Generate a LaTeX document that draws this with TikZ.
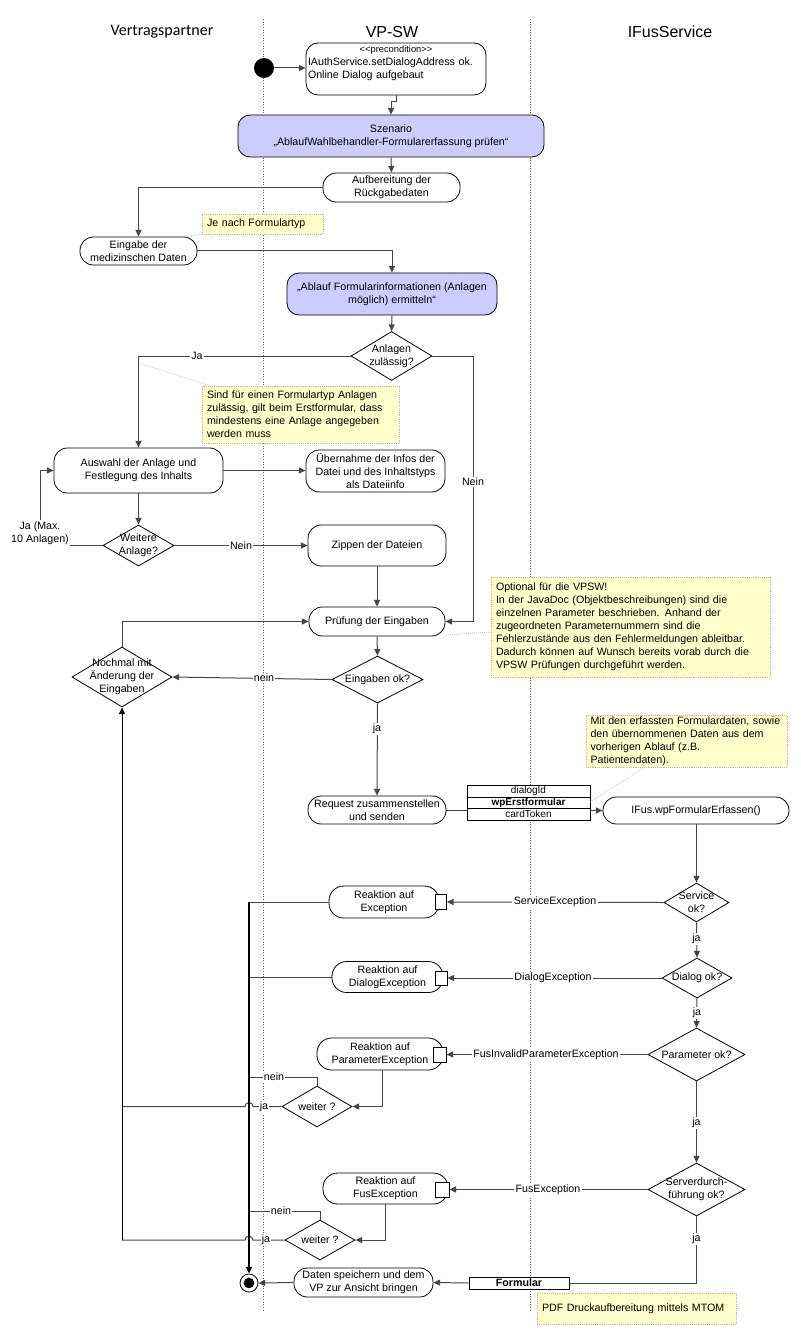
\documentclass[tikz,border=0pt]{standalone}
\usepackage{fontspec}
\setmainfont{Liberation Sans}
\newfontfamily\hdrfont{Carlito}
\usetikzlibrary{shapes.geometric,arrows.meta,calc}
\definecolor{lav}{RGB}{204,204,255}
\definecolor{notey}{RGB}{255,255,204}
\definecolor{noteb}{RGB}{185,185,150}
\definecolor{ln}{RGB}{70,70,70}
\begin{document}
\begin{tikzpicture}[x=0.75pt,y=-0.75pt,
  fs/.style={font=\fontsize{8}{9.75}\selectfont},
  wh/.style 2 args={minimum width=#1*0.75pt, minimum height=#2*0.75pt},
  act/.style={draw=black, rounded corners=8pt, fill=white, inner sep=0pt, align=center, fs, line width=0.6pt},
  reak/.style={act, rounded corners=11pt},
  purp/.style={act, fill=lav},
  dia/.style={diamond, draw=black, fill=white, inner sep=0pt, line width=0.6pt},
  dtxt/.style={align=center, fs, inner sep=0pt},
  nt/.style={draw=noteb, densely dotted, fill=notey, inner xsep=3.75pt, inner ysep=0pt, align=left, fs, text width=#1},
  port/.style={draw=black, fill=white, inner sep=0pt, line width=0.6pt},
  objrow/.style={draw=black, fill=white, inner sep=0pt, line width=0.6pt, font=\fontsize{7.5}{8}\selectfont},
  line/.style={draw=ln, line width=0.75pt},
  arr/.style={line, -{Triangle[length=5pt,width=4.5pt]}},
  bar/.style={draw=black, line width=1.5pt},
  thinbar/.style={draw=black, line width=0.6pt},
  lab/.style={fill=white, inner sep=1pt, fs},
  ncon/.style={draw=gray!60, densely dotted, line width=0.5pt},
  lane/.style={draw=gray!70!black, dash pattern=on 0.8pt off 1.2pt, line width=0.5pt},
  hdA/.style={font=\hdrfont\fontsize{12}{14}\selectfont},
  hdB/.style={font=\fontsize{12}{14}\selectfont}]
\fill[white] (0,0) rectangle (800,1337);
\useasboundingbox (0,0) rectangle (800,1337);

% lanes
\coordinate (la1) at (263,19); \coordinate (lb1) at (263,1310);
\coordinate (la2) at (530,19); \coordinate (lb2) at (530,1310);
\draw[lane] (la1) -- (lb1);
\draw[lane] (la2) -- (lb2);

% headers
\node[hdA] (hVP) at (162,32) {Vertragspartner};
\node[hdB] (hSW) at (392,32) {VP-SW};
\node[hdB] (hIF) at (670,32) {IFusService};

% nodes
\node[circle, fill=black, minimum size=15pt, inner sep=0pt] (start) at (264,68) {};
\node[act, rounded corners=9pt, wh={180}{52}, text width=132pt, align=left] (pre) at (396,69)
  {\makebox[132pt]{\fontsize{7}{9}\selectfont <{}<precondition>{}>}\\IAuthService.setDialogAddress ok.\\Online Dialog aufgebaut\\\mbox{}};
\node[purp, wh={306}{42}, rounded corners=9pt] (szen) at (391,136) {Szenario\\„AblaufWahlbehandler-Formularerfassung prüfen“};
\node[act, wh={137}{29}, rounded corners=10pt] (aufb) at (391.5,187.5) {Aufbereitung der\\Rückgabedaten};
\node[nt=83.25pt, minimum height=15pt] (n1) at (262.5,224) {Je nach Formulartyp};
\node[act, wh={117}{28}, rounded corners=10pt] (eing) at (138.5,251) {Eingabe der\\medizinschen Daten};
\node[purp, wh={210}{42}, rounded corners=9pt] (abl) at (392,294) {„Ablauf Formularinformationen (Anlagen\\möglich) ermitteln“};
\node[dia, wh={81}{49}, label={[dtxt]center:{Anlagen\\zulässig?}}] (anl) at (391.5,356) {};
\node[nt=140.25pt, minimum height=42.75pt] (n2) at (300.5,414.5) {Sind für einen Formulartyp Anlagen\\zulässig, gilt beim Erstformular, dass\\mindestens eine Anlage angegeben\\werden muss};
\node[act, wh={169}{45}, rounded corners=10pt] (ausw) at (138.5,470.5) {Auswahl der Anlage und\\Festlegung des Inhalts};
\node[act, wh={139}{42}, rounded corners=10pt] (uebn) at (375.5,471) {Übernahme der Infos der\\Datei und des Inhaltstyps\\als Dateiinfo};
\node[dia, wh={71}{41}, label={[dtxt]center:{Weitere\\Anlage?}}] (weit) at (138.5,545.5) {};
\node[act, wh={138}{41}, rounded corners=10pt] (zipp) at (377,545.5) {Zippen der Dateien};
\node[act, wh={136}{29}, rounded corners=10pt] (pruef) at (377,621.5) {Prüfung der Eingaben};
\node[nt=201.75pt, minimum height=75pt] (n3) at (630.5,627) {Optional für die VPSW!\\In der JavaDoc (Objektbeschreibungen) sind die\\einzelnen Parameter beschrieben. Anhand der\\zugeordneten Parameternummern sind die\\Fehlerzustände aus den Fehlermeldungen ableitbar.\\Dadurch können auf Wunsch bereits vorab durch die\\VPSW Prüfungen durchgeführt werden.};
\node[dia, wh={100}{60}, label={[dtxt]center:{Nochmal mit\\Änderung der\\Eingaben}}] (noch) at (122,677) {};
\node[dia, wh={91}{47}, label={[dtxt]center:{Eingaben ok?}}] (eok) at (377.5,679.5) {};
\node[act, wh={138}{28}, rounded corners=10pt] (req) at (377,810) {Request zusammenstellen\\und senden};
\node[objrow, wh={123}{12}] (o1) at (528.5,791) {dialogId};
\node[objrow, wh={123}{11}] (o2) at (528.5,802.5) {\bfseries wpErstformular};
\node[objrow, wh={123}{12}] (o3) at (528.5,814) {cardToken};
\node[nt=144pt, inner xsep=3.4pt, minimum height=39pt] (n4) at (686.5,741) {Mit den erfassten Formulardaten, sowie\\den übernommenen Daten aus dem\\vorherigen Ablauf (z.B.\\Patientendaten).};
\node[act, wh={186}{27}, rounded corners=10pt] (ifus) at (696,810.5) {IFus.wpFormularErfassen()};

\node[dia, wh={65}{39}, label={[dtxt]center:{Service\\ok?}}] (serv) at (696.5,902.5) {};
\node[reak, wh={110}{32}] (rea1) at (384,902) {Reaktion auf\\Exception};
\node[port, wh={11}{15}] (p1) at (441,902) {};
\node[dia, wh={70}{40}, label={[dtxt]center:{Dialog ok?}}] (dial) at (697,978) {};
\node[reak, wh={111}{31}] (rea2) at (387.5,977) {Reaktion auf\\DialogException};
\node[port, wh={12}{14}] (p2) at (441,978) {};
\node[dia, wh={97}{53}, label={[dtxt]center:{Parameter ok?}}] (para) at (696.5,1054.5) {};
\node[reak, wh={126}{32}] (rea3) at (380,1054) {Reaktion auf\\ParameterException};
\node[port, wh={13}{15}] (p3) at (439.5,1054.5) {};
\node[dia, wh={70}{41}, label={[dtxt]center:{weiter ?}}] (w1) at (317,1106.5) {};
\node[dia, wh={97}{53}, label={[dtxt]center:{Serverdurch-\\führung ok?}}] (serv2) at (696.5,1189.5) {};
\node[reak, wh={125}{31}] (rea4) at (385.5,1188.5) {Reaktion auf\\FusException};
\node[port, wh={14}{15}] (p4) at (442,1189.5) {};
\node[dia, wh={70}{40}, label={[dtxt]center:{weiter ?}}] (w2) at (320,1240) {};
\node[circle, draw=black, fill=white, minimum size=13.5pt, inner sep=0pt, line width=0.6pt] (fin) at (249,1283) {};
\node[circle, fill=black, minimum size=8pt, inner sep=0pt] (finin) at (fin.center) {};
\node[act, wh={139}{29}, rounded corners=10pt] (daten) at (363.5,1282.5) {Daten speichern und dem\\VP zur Ansicht bringen};
\node[objrow, wh={100}{12}, font=\fontsize{8}{9}\selectfont\bfseries] (form) at (519,1283) {Formular};
\node[nt=141.75pt, minimum height=23.25pt] (n5) at (636.5,1308.5) {PDF Druckaufbereitung mittels MTOM};

% coordinates
\coordinate (cJa) at (138.5,356);
\coordinate (cNein) at (473,356);
\coordinate (cLoop) at (40,545.5);
\coordinate (b1) at (249,902);
\coordinate (b2) at (249,977);
\coordinate (nn1) at (249,1077);
\coordinate (nn2) at (249,1211);
\coordinate (jl1) at (122,1106.5);
\coordinate (jl2) at (122,1240);
\coordinate (c1) at (183,237);
\coordinate (c2) at (139,363);
\coordinate (c3) at (445,635);
\coordinate (c4) at (590,802);
\coordinate (c5) at (546,1289);

% note connectors
\draw[ncon] (n1.south west) -- (c1);
\draw[ncon] ($(n2.north west)+(8,0)$) -- (c2);
\draw[ncon] ($(n3.west)+(0,5)$) -- (c3);
\draw[ncon] ($(n4.south west)+(59,0)$) -- (c4);
\draw[ncon] ($(n5.north west)+(16,0)$) -- (c5);

% connectors
\draw[arr] (start) -- (start -| pre.west);
\draw[arr] (pre.south) -- ++(0,6) -| (szen.north);
\draw[arr] (szen.south) -- (aufb.north);
\draw[arr] (aufb.west) -| (eing.north);
\draw[arr] (eing.east) -| (abl.north);
\draw[arr] (abl.south) -- (anl.north);
\draw[arr] (anl.west) -- (cJa) -- (ausw.north);
\draw[arr] (anl.east) -- (cNein) |- (pruef.east);
\draw[arr] (ausw.east) -- (ausw.east -| uebn.west);
\draw[arr] (ausw.south) -- (weit.north);
\draw[arr] (weit.west) -- (cLoop) |- (ausw.west);
\draw[arr] (weit.east) -- (zipp.west);
\draw[arr] (zipp.south) -- (pruef.north);
\draw[arr] (pruef.south) -- (eok.north);
\draw[arr] (eok.west) -- (noch.east);
\draw[arr] (noch.north) |- (pruef.west);
\draw[arr] (eok.south) -- (req.north);
\draw[line] (req.east) -- (req.east -| o3.west);
\draw[arr] (o3.east |- ifus.west) -- (ifus.west);
\draw[arr] (ifus.south -| serv.north) -- (serv.north);
\draw[arr] (serv.west) -- (p1.east);
\draw[arr] (serv.south) -- (dial.north);
\draw[arr] (dial.west) -- (p2.east);
\draw[arr] (dial.south) -- (para.north);
\draw[arr] (para.west) -- (p3.east);
\draw[arr] (para.south) -- (serv2.north);
\draw[arr] (serv2.west) -- (p4.east);
\draw[line] (serv2.south) |- (form.east);
\draw[arr] (form.west) -- (daten.east);
\draw[arr] (daten.west) -- (fin.east);

\draw[line] (rea1.west) -- (b1);
\draw[line] (rea2.west) -- (b2);
\draw[arr] ($(rea3.south)+(2,0)$) |- (w1.east);
\draw[line] (w1.north) |- (nn1);
\draw[line] (w1.west) -- (253,1106.5) arc[start angle=0, end angle=180, radius=3pt] -- (jl1);
\draw[arr] (rea4.south) |- (w2.east);
\draw[line] (w2.north) |- (nn2);
\draw[line] (w2.west) -- (253,1240) arc[start angle=0, end angle=180, radius=3pt] -- (jl2);
\draw[bar, -{Triangle[length=5pt,width=4.5pt]}] (b1) -- (fin.north);
\draw[thinbar, -{Triangle[length=5pt,width=4.5pt]}] (jl2) -- (noch.south);

% line labels
\node[lab] (lJa) at (197,356) {Ja};
\node[lab] (lNein) at (473,482) {Nein};
\node[lab, align=center] (lLoop) at (40,533) {Ja (Max.\\10 Anlagen)};
\node[lab] (lNein2) at (241,545.5) {Nein};
\node[lab] (lnein) at (264,678) {nein};
\node[lab] (lja) at (377,729) {ja};
\node[lab] (lSE) at (555,902) {ServiceException};
\node[lab] (lja1) at (696.5,939) {ja};
\node[lab] (lDE) at (553,978) {DialogException};
\node[lab] (lja2) at (697,1013) {ja};
\node[lab] (lFIP) at (546,1054.5) {FusInvalidParameterException};
\node[lab] (lja3) at (696.5,1123) {ja};
\node[lab] (lFE) at (548,1189.5) {FusException};
\node[lab] (lja4) at (696.5,1239) {ja};
\node[lab] (ln1) at (274,1077) {nein};
\node[lab] (lj1) at (264,1106.5) {ja};
\node[lab] (ln2) at (281,1211) {nein};
\node[lab] (lj2) at (266,1240) {ja};
\end{tikzpicture}
\end{document}
